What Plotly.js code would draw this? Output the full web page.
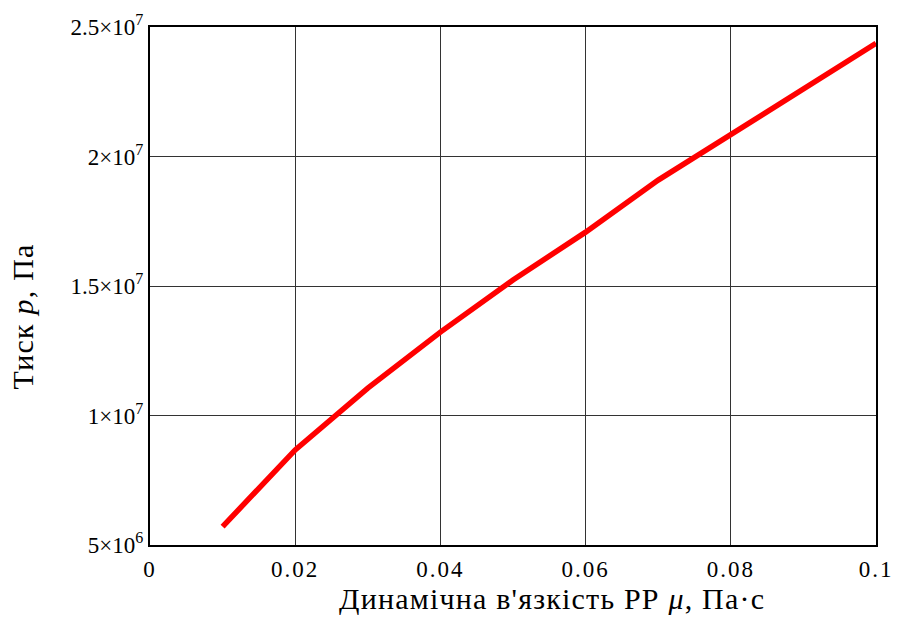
<!DOCTYPE html>
<html>
<head>
<meta charset="utf-8">
<script src="https://cdn.plot.ly/plotly-3.0.1.min.js"></script>
<style>
html,body{margin:0;padding:0;background:#fff;}
#chart{width:901px;height:622px;}
#chart .xtick text{letter-spacing:2px;}
#chart text.xtitle, #chart text.ytitle{letter-spacing:1.2px;}
</style>
</head>
<body>
<div id="chart"></div>
<script>
const viscosity = [0.01, 0.02, 0.03, 0.04, 0.05, 0.06, 0.07, 0.08, 0.09, 0.1];
const pressure = [5.71e6, 8.67e6, 1.106e7, 1.322e7, 1.523e7, 1.708e7, 1.909e7, 2.083e7, 2.261e7, 2.437e7];
const xTickVals = [0, 0.02, 0.04, 0.06, 0.08, 0.1];
const xTickText = ['0', '0.02', '0.04', '0.06', '0.08', '0.1'];
const yTickVals = [5e6, 1e7, 1.5e7, 2e7, 2.5e7];
const yTickText = ['5×10<sup>6</sup>', '1×10<sup>7</sup>', '1.5×10<sup>7</sup>', '2×10<sup>7</sup>', '2.5×10<sup>7</sup>'];
const xTitle = 'Динамічна в\'язкість РР <i>μ</i>, Па·с';
const yTitle = 'Тиск <i>p</i>, Па';

const serif = '"Liberation Serif"';
const pad = n => '&nbsp;'.repeat(n);

Plotly.newPlot('chart', [{
  x: viscosity,
  y: pressure,
  type: 'scatter',
  mode: 'lines',
  line: {color: '#ff0000', width: 5.5},
  hoverinfo: 'skip'
}], {
  width: 901,
  height: 622,
  margin: {l: 150, r: 25, t: 27, b: 77},
  paper_bgcolor: '#ffffff',
  plot_bgcolor: '#ffffff',
  showlegend: false,
  font: {family: serif, color: '#000', size: 22},
  xaxis: {
    range: [0, 0.1],
    tickvals: xTickVals,
    ticktext: xTickText,
    ticks: '',
    ticklabelstandoff: 2,
    showgrid: true,
    gridcolor: '#333',
    gridwidth: 1,
    zeroline: false,
    showline: true,
    linecolor: '#000',
    linewidth: 2,
    mirror: true,
    tickfont: {family: serif, size: 23, color: '#000'},
    title: {text: pad(9) + xTitle, font: {family: serif, size: 30, color: '#000'}, standoff: 6}
  },
  yaxis: {
    range: [5e6, 2.5e7],
    tickvals: yTickVals,
    ticktext: yTickText,
    ticks: '',
    showgrid: true,
    gridcolor: '#333',
    gridwidth: 1,
    zeroline: false,
    showline: true,
    linecolor: '#000',
    linewidth: 2,
    mirror: true,
    tickfont: {family: serif, size: 23, color: '#000'},
    title: {text: yTitle + pad(7), font: {family: serif, size: 30, color: '#000'}, standoff: 28}
  }
}, {displayModeBar: false, staticPlot: true});
</script>
</body>
</html>
